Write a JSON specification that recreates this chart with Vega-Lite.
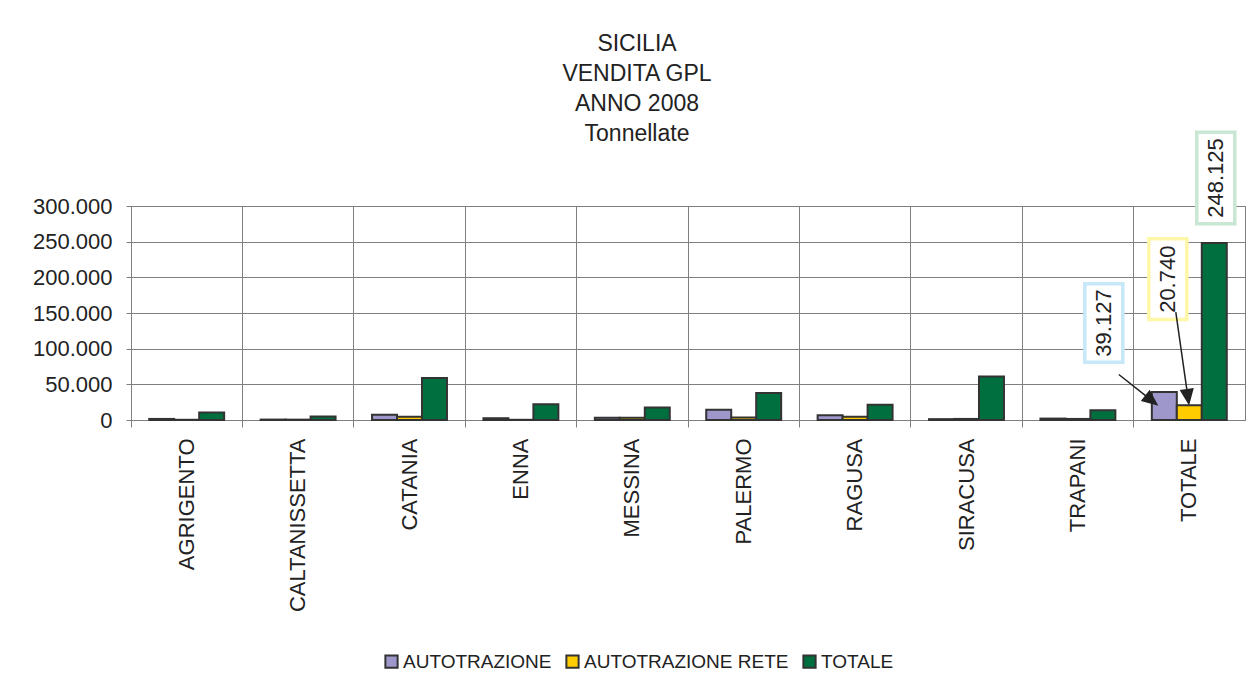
{
  "$schema": "https://vega.github.io/schema/vega-lite/v6.json",
  "width": 1114,
  "height": 214,
  "autosize": {"type": "none"},
  "padding": {"left": 131, "top": 206, "right": 10, "bottom": 260},
  "background": "white",
  "title": {
    "text": ["SICILIA", "VENDITA GPL", "ANNO 2008", "Tonnellate"],
    "anchor": "middle",
    "frame": "group",
    "dx": -51,
    "offset": -21,
    "font": "Liberation Sans",
    "fontSize": 23,
    "fontWeight": "normal",
    "color": "#222222",
    "lineHeight": 30
  },
  "config": {
    "locale": {"number": {"decimal": ",", "thousands": ".", "grouping": [3], "currency": ["€", ""]}},
    "view": {"stroke": "#7f7f7f", "strokeWidth": 1},
    "axis": {
      "labelFont": "Liberation Sans",
      "labelFontSize": 22,
      "labelColor": "#222222",
      "gridColor": "#7f7f7f",
      "gridOpacity": 1,
      "gridWidth": 1,
      "domainColor": "#7f7f7f",
      "tickColor": "#7f7f7f"
    },
    "legend": {
      "labelFont": "Liberation Sans",
      "labelFontSize": 19,
      "labelColor": "#222222",
      "labelLimit": 0
    }
  },
  "data": {
    "values": [
      {"categoria": "AGRIGENTO", "serie": "AUTOTRAZIONE", "valore": 1500},
      {"categoria": "AGRIGENTO", "serie": "AUTOTRAZIONE RETE", "valore": 300},
      {"categoria": "AGRIGENTO", "serie": "TOTALE", "valore": 10500},
      {"categoria": "CALTANISSETTA", "serie": "AUTOTRAZIONE", "valore": 600},
      {"categoria": "CALTANISSETTA", "serie": "AUTOTRAZIONE RETE", "valore": 500},
      {"categoria": "CALTANISSETTA", "serie": "TOTALE", "valore": 5000},
      {"categoria": "CATANIA", "serie": "AUTOTRAZIONE", "valore": 7500},
      {"categoria": "CATANIA", "serie": "AUTOTRAZIONE RETE", "valore": 4500},
      {"categoria": "CATANIA", "serie": "TOTALE", "valore": 59000},
      {"categoria": "ENNA", "serie": "AUTOTRAZIONE", "valore": 2500},
      {"categoria": "ENNA", "serie": "AUTOTRAZIONE RETE", "valore": 300},
      {"categoria": "ENNA", "serie": "TOTALE", "valore": 22000},
      {"categoria": "MESSINA", "serie": "AUTOTRAZIONE", "valore": 3000},
      {"categoria": "MESSINA", "serie": "AUTOTRAZIONE RETE", "valore": 3000},
      {"categoria": "MESSINA", "serie": "TOTALE", "valore": 17500},
      {"categoria": "PALERMO", "serie": "AUTOTRAZIONE", "valore": 14500},
      {"categoria": "PALERMO", "serie": "AUTOTRAZIONE RETE", "valore": 3500},
      {"categoria": "PALERMO", "serie": "TOTALE", "valore": 38000},
      {"categoria": "RAGUSA", "serie": "AUTOTRAZIONE", "valore": 6500},
      {"categoria": "RAGUSA", "serie": "AUTOTRAZIONE RETE", "valore": 4500},
      {"categoria": "RAGUSA", "serie": "TOTALE", "valore": 21500},
      {"categoria": "SIRACUSA", "serie": "AUTOTRAZIONE", "valore": 1200},
      {"categoria": "SIRACUSA", "serie": "AUTOTRAZIONE RETE", "valore": 1500},
      {"categoria": "SIRACUSA", "serie": "TOTALE", "valore": 61000},
      {"categoria": "TRAPANI", "serie": "AUTOTRAZIONE", "valore": 2000},
      {"categoria": "TRAPANI", "serie": "AUTOTRAZIONE RETE", "valore": 1500},
      {"categoria": "TRAPANI", "serie": "TOTALE", "valore": 13500},
      {"categoria": "TOTALE", "serie": "AUTOTRAZIONE", "valore": 39127},
      {"categoria": "TOTALE", "serie": "AUTOTRAZIONE RETE", "valore": 20740},
      {"categoria": "TOTALE", "serie": "TOTALE", "valore": 248125}
    ]
  },
  "encoding": {
    "x": {
      "field": "categoria",
      "type": "nominal",
      "sort": null,
      "scale": {"paddingInner": 0, "paddingOuter": 0},
      "axis": {
        "title": null,
        "labelAngle": -90,
        "labelAlign": "right",
        "labelBaseline": "middle",
        "bandPosition": 0,
        "grid": true,
        "tickSize": 7,
        "labelPadding": 11,
        "domain": true
      }
    },
    "xOffset": {
      "field": "serie",
      "type": "nominal",
      "scale": {"domain": ["AUTOTRAZIONE", "AUTOTRAZIONE RETE", "TOTALE"], "paddingInner": 0, "paddingOuter": 0.73}
    },
    "y": {
      "field": "valore",
      "type": "quantitative",
      "scale": {"domain": [0, 300000], "nice": false},
      "axis": {
        "title": null,
        "values": [0, 50000, 100000, 150000, 200000, 250000, 300000],
        "format": ",d",
        "tickSize": 5,
        "labelPadding": 14,
        "grid": true
      }
    }
  },
  "layer": [
    {
      "mark": {"type": "bar", "stroke": "#333333", "strokeWidth": 2},
      "encoding": {
        "color": {
          "field": "serie",
          "type": "nominal",
          "scale": {"domain": ["AUTOTRAZIONE", "AUTOTRAZIONE RETE", "TOTALE"], "range": ["#9d97cb", "#ffcc00", "#006f3f"]},
          "legend": {
            "title": null,
            "orient": "none",
            "direction": "horizontal",
            "legendX": 251,
            "legendY": 446,
            "symbolType": "square",
            "symbolSize": 150,
            "symbolStrokeColor": "#333333",
            "symbolStrokeWidth": 2,
            "labelOffset": 2,
            "columnPadding": 10,
            "padding": 0
          }
        }
      }
    },
    {
      "transform": [{"filter": "datum.categoria === 'TOTALE' && datum.serie === 'AUTOTRAZIONE'"}],
      "mark": {"type": "point", "shape": "M-79.5,-108.3H-41.5V-29.9H-79.5Z", "size": 4, "filled": true, "fill": "white", "stroke": "#c6e8f8", "strokeWidth": 3.5, "opacity": 1}
    },
    {
      "transform": [{"filter": "datum.categoria === 'TOTALE' && datum.serie === 'AUTOTRAZIONE RETE'"}],
      "mark": {"type": "point", "shape": "M-40.5,-166.4H-2.5V-85.7H-40.5Z", "size": 4, "filled": true, "fill": "white", "stroke": "#fff7a8", "strokeWidth": 3.5, "opacity": 1}
    },
    {
      "transform": [{"filter": "datum.categoria === 'TOTALE' && datum.serie === 'TOTALE'"}],
      "mark": {"type": "point", "shape": "M-17.5,-110.8H20.5V-19.2H-17.5Z", "size": 4, "filled": true, "fill": "white", "stroke": "#c9e7d3", "strokeWidth": 3.5, "opacity": 1}
    },
    {
      "transform": [{"filter": "datum.categoria === 'TOTALE' && datum.serie === 'AUTOTRAZIONE'"}],
      "mark": {"type": "text", "angle": 270, "align": "center", "baseline": "middle", "dx": 69.1, "dy": -60.5, "font": "Liberation Sans", "fontSize": 22, "color": "#222222"},
      "encoding": {"text": {"field": "valore", "type": "quantitative", "format": ",d"}}
    },
    {
      "transform": [{"filter": "datum.categoria === 'TOTALE' && datum.serie === 'AUTOTRAZIONE RETE'"}],
      "mark": {"type": "text", "angle": 270, "align": "center", "baseline": "middle", "dx": 126, "dy": -21.5, "font": "Liberation Sans", "fontSize": 22, "color": "#222222"},
      "encoding": {"text": {"field": "valore", "type": "quantitative", "format": ",d"}}
    },
    {
      "transform": [{"filter": "datum.categoria === 'TOTALE' && datum.serie === 'TOTALE'"}],
      "mark": {"type": "text", "angle": 270, "align": "center", "baseline": "middle", "dx": 65, "dy": 1.5, "font": "Liberation Sans", "fontSize": 22, "color": "#222222"},
      "encoding": {"text": {"field": "valore", "type": "quantitative", "format": ",d"}}
    },
    {
      "transform": [{"filter": "datum.categoria === 'TOTALE' && datum.serie === 'AUTOTRAZIONE'"}],
      "mark": {"type": "point", "shape": "M-45.5,-17.6L-18.49,3.72M-7.5,12.4L-22.21,8.43L-14.77,-0.99Z", "size": 4, "filled": true, "fill": "#222222", "stroke": "#222222", "strokeWidth": 1.5, "opacity": 1}
    },
    {
      "transform": [{"filter": "datum.categoria === 'TOTALE' && datum.serie === 'AUTOTRAZIONE RETE'"}],
      "mark": {"type": "point", "shape": "M-13.5,-93L-2.47,-15.56M-0.5,-1.7L-8.41,-14.71L3.47,-16.41Z", "size": 4, "filled": true, "fill": "#222222", "stroke": "#222222", "strokeWidth": 1.5, "opacity": 1}
    }
  ]
}
